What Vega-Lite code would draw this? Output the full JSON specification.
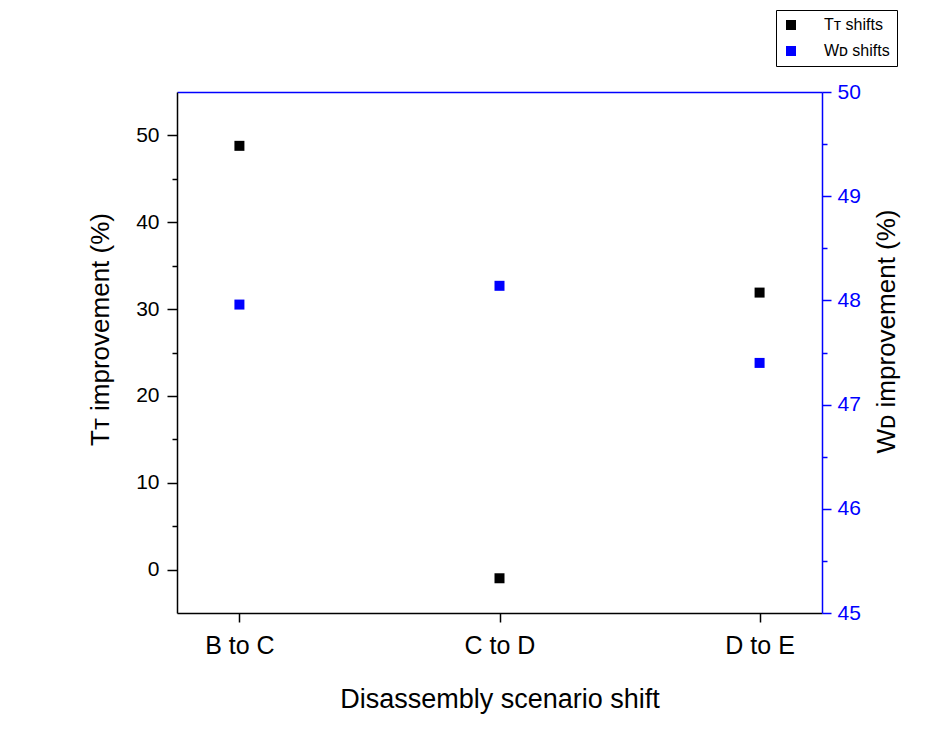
{
  "$schema": "https://vega.github.io/schema/vega-lite/v6.json",
  "width": 645,
  "height": 521,
  "autosize": {"type": "none"},
  "padding": {"left": 177, "top": 92, "right": 118, "bottom": 116},
  "background": "white",
  "config": {
    "font": "Liberation Sans",
    "view": {"stroke": null},
    "axis": {"grid": false, "labelFont": "Liberation Sans", "titleFont": "Liberation Sans", "titleFontWeight": "normal", "domainWidth": 1.5, "tickWidth": 1.5}
  },
  "data": {
    "values": [
      {"shift": "B to C", "TT": 48.8, "WD": 47.96},
      {"shift": "C to D", "TT": -1.0, "WD": 48.14},
      {"shift": "D to E", "TT": 31.9, "WD": 47.40}
    ]
  },
  "layer": [
    {
      "mark": {"type": "square", "size": 100, "opacity": 1, "filled": true},
      "encoding": {
        "x": {
          "field": "shift",
          "type": "ordinal",
          "sort": null,
          "scale": {"type": "point", "padding": 0.24},
          "axis": {
            "orient": "bottom",
            "title": "Disassembly scenario shift",
            "labelAngle": 0,
            "labelFontSize": 25,
            "labelColor": "black",
            "labelPadding": 11,
            "titleFontSize": 27,
            "titleColor": "black",
            "titlePadding": 28,
            "domainColor": "black",
            "tickColor": "black",
            "tickSize": 9
          }
        },
        "y": {
          "field": "TT",
          "type": "quantitative",
          "scale": {"domain": [-5, 55], "nice": false, "zero": false},
          "axis": {
            "orient": "left",
            "title": "Tᴛ improvement (%)",
            "values": [0, 5, 10, 15, 20, 25, 30, 35, 40, 45, 50],
            "labelExpr": "datum.value % 10 === 0 ? datum.label : ''",
            "tickSize": {"condition": {"test": "datum.value % 10 !== 0", "value": 5}, "value": 10},
            "labelFontSize": 21,
            "labelColor": "black",
            "labelPadding": 8,
            "titleFontSize": 26,
            "titleColor": "black",
            "titlePadding": 22,
            "titleY": 237,
            "domainColor": "black",
            "tickColor": "black"
          }
        },
        "color": {
          "datum": "Tᴛ shifts",
          "type": "nominal",
          "scale": {"domain": ["Tᴛ shifts", "Wᴅ shifts"], "range": ["#000000", "#0000ff"]},
          "legend": {
            "title": null,
            "orient": "none",
            "legendX": 599,
            "legendY": -82,
            "symbolType": "square",
            "symbolSize": 100,
            "symbolStrokeWidth": 0,
            "labelFontSize": 16,
            "labelColor": "black",
            "labelOffset": 25,
            "rowPadding": 10,
            "padding": 7,
            "strokeColor": "black",
            "fillColor": "white"
          }
        }
      }
    },
    {
      "mark": {"type": "square", "size": 100, "opacity": 1, "filled": true},
      "encoding": {
        "x": {
          "field": "shift",
          "type": "ordinal",
          "sort": null,
          "scale": {"type": "point", "padding": 0.24},
          "axis": {
            "orient": "top",
            "title": null,
            "labels": false,
            "ticks": false,
            "domainColor": "#0000ff"
          }
        },
        "y": {
          "field": "WD",
          "type": "quantitative",
          "scale": {"domain": [45, 50], "nice": false, "zero": false},
          "axis": {
            "orient": "right",
            "title": "Wᴅ improvement (%)",
            "values": [45, 45.5, 46, 46.5, 47, 47.5, 48, 48.5, 49, 49.5, 50],
            "labelExpr": "datum.value % 1 === 0 ? format(datum.value, 'd') : ''",
            "tickSize": {"condition": {"test": "datum.value % 1 !== 0", "value": 5}, "value": 9},
            "labelFontSize": 21,
            "labelColor": "#0000ff",
            "labelPadding": 6,
            "titleFontSize": 26,
            "titleColor": "black",
            "titlePadding": 13,
            "titleAngle": 270,
            "titleBaseline": "top",
            "titleY": 239,
            "domainColor": "#0000ff",
            "tickColor": "#0000ff"
          }
        },
        "color": {"datum": "Wᴅ shifts", "type": "nominal"}
      }
    }
  ],
  "resolve": {"scale": {"y": "independent", "x": "independent"}}
}
